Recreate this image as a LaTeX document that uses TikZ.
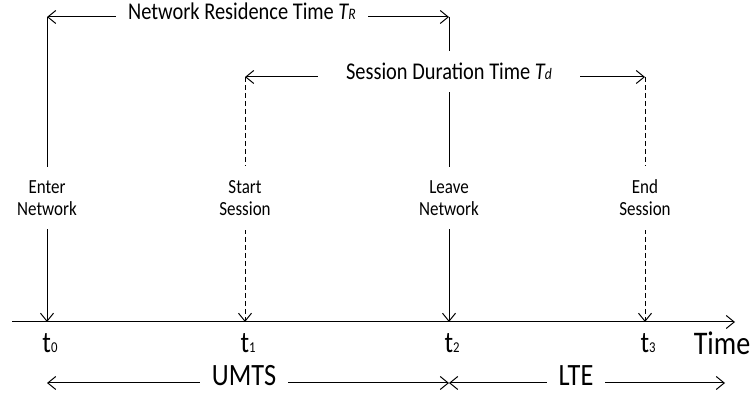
\documentclass[tikz,border=0pt]{standalone}
\usepackage{fontspec}
\setmainfont[FakeStretch=0.85]{Carlito}
\usetikzlibrary{arrows.meta,positioning}

\begin{document}
\begin{tikzpicture}[x=1pt,y=1pt,>={Straight Barb[length=8pt,width=13pt]},line width=1pt]
      \tikzstyle{every node}=[inner sep=0pt]
      \tikzstyle{event}=[fill=white,align=center,font=\fontsize{20}{22}\selectfont,inner xsep=4pt,inner ysep=14pt]
      \tikzstyle{span}=[fill=white,font=\fontsize{24}{26}\selectfont,inner xsep=12pt,inner ysep=12pt,anchor=mid]
      \tikzstyle{tick}=[font=\fontsize{30}{30}\selectfont,anchor=base]
      \tikzstyle{net}=[fill=white,font=\fontsize{31}{31}\selectfont,inner xsep=12pt,inner ysep=6pt,anchor=mid]
      \tikzstyle{sess}=[dash pattern=on 5pt off 3pt]

      \useasboundingbox (0,0) rectangle (753,401);

      % time axis
      \coordinate(origin) at (12,79);
      \coordinate(end) at (735,79);
      \coordinate(t0) at (47,79);
      \coordinate(t1) at (245,79);
      \coordinate(t2) at (449,79);
      \coordinate(t3) at (645,79);
      \draw[->] (origin) -- (end);

      % event lines
      \coordinate(n0) at (47,384);
      \coordinate(n2) at (449,384);
      \coordinate(s1) at (245,324);
      \coordinate(s3) at (645,324);
      \draw[->] (n0) -- (t0);
      \draw[->] (n2) -- (t2);
      \draw[->,sess] (s1) -- (t1);
      \draw[->,sess] (s3) -- (t3);

      \node(enter) [event] at (47,203) {Enter\\Network};
      \node(begin) [event] at (245,203) {Start\\Session};
      \node(leave) [event] at (449,203) {Leave\\Network};
      \node(stop) [event] at (645,203) {End\\Session};

      % durations
      \draw[<->] (n0) -- node(resid) [span,pos=0.485] {Network Residence Time \textit{T{\fontsize{16}{16}\selectfont R}}} (n2);
      \draw[<->] (s1) -- node(durat) [span,pos=0.51,inner xsep=28pt] {Session Duration Time \textit{T{\fontsize{16}{16}\selectfont d}}} (s3);

      % instants
      \node(l0) [tick] at (50,48) {t{\fontsize{15}{15}\selectfont 0}};
      \node(l1) [tick] at (248,48) {t{\fontsize{15}{15}\selectfont 1}};
      \node(l2) [tick] at (452,48) {t{\fontsize{15}{15}\selectfont 2}};
      \node(l3) [tick] at (648,48) {t{\fontsize{15}{15}\selectfont 3}};
      \node(time) [tick,font=\fontsize{33}{33}\selectfont] at (722,46) {Time};

      % networks
      \coordinate(u0) at (47,18);
      \coordinate(u2) at (449,18);
      \coordinate(u3) at (725,18);
      \draw[<->] (u0) -- node(umts) [net,pos=0.49] {UMTS} (u2);
      \draw[<->] (u2) -- node(lte) [net,pos=0.46] {LTE} (u3);
\end{tikzpicture}
\end{document}
